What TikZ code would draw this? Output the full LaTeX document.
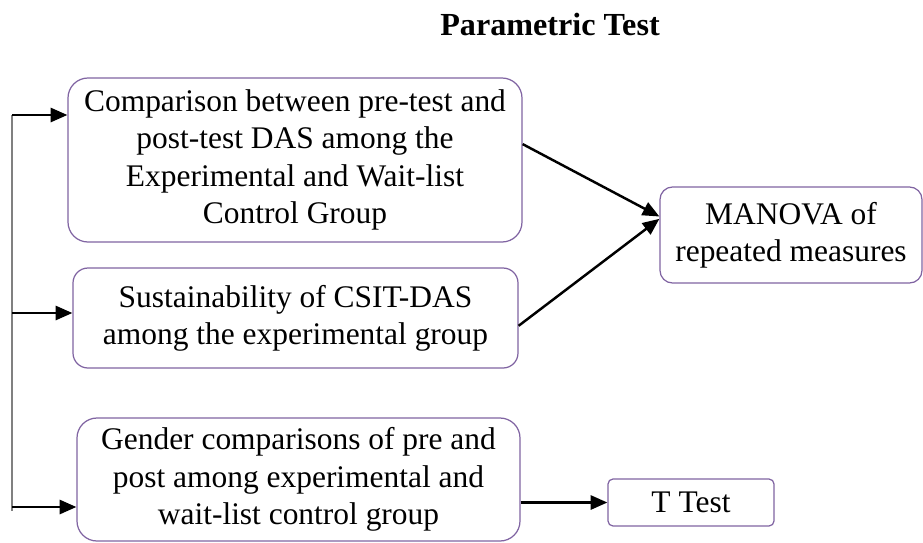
\documentclass[tikz,border=0pt]{standalone}
\usepackage{fontspec}
\setmainfont{Liberation Serif}
\usetikzlibrary{arrows.meta}

\definecolor{boxline}{RGB}{128,100,162}

\tikzset{
  testbox/.style={draw=boxline,line width=0.7pt,align=center,inner sep=0pt,
    font=\fontsize{17.9}{21.2}\selectfont},
  feed/.style={line width=1.4pt,-{Triangle[length=9.5pt,width=8pt]}}
}

\begin{document}
\begin{tikzpicture}[x=0.02cm,y=-0.02cm]
      \useasboundingbox (0,0) rectangle (923,542);

      \node [anchor=base,font=\bfseries\fontsize{18.3}{22}\selectfont] (title) at (550,35) {Parametric Test};

      % the three comparisons on the left
      \node [testbox,rounded corners=0.4cm,minimum width=454*0.02cm,minimum height=164*0.02cm] (cmp) at (295,160)
        {Comparison between pre-test and\\post-test DAS among the\\Experimental and Wait-list\\Control Group};
      \node [testbox,rounded corners=0.3cm,minimum width=445*0.02cm,minimum height=100*0.02cm] (sus) at (295.5,318)
        {Sustainability of CSIT-DAS\\among the experimental group};
      \node [testbox,rounded corners=0.4cm,minimum width=443*0.02cm,minimum height=123*0.02cm] (gen) at (298.5,479.5)
        {Gender comparisons of pre and\\post among experimental and\\wait-list control group};

      % the tests on the right
      \node [testbox,rounded corners=0.25cm,minimum width=262*0.02cm,minimum height=96*0.02cm] (mnv) at (791,235)
        {MANOVA of\\repeated measures};
      \node [testbox,rounded corners=0.1cm,minimum width=166*0.02cm,minimum height=47*0.02cm] (tt) at (691,502.5)
        {T Test};

      % feeding line on the left
      \coordinate (bustop) at (12,115);
      \coordinate (busmid) at (12,313);
      \coordinate (busbot) at (12,507);
      \draw [gray,line width=0.9pt] (bustop) -- ([yshift=-2pt]busbot);

      \draw [feed] (bustop) -- (bustop -| cmp.west);
      \draw [feed] (busmid) -- (busmid -| sus.west);
      \draw [feed] (busbot) -- (busbot -| gen.west);

      \draw [feed] (cmp.4) -- (mnv.172);
      \draw [feed] (sus.-2) -- (mnv.173.5);
      \draw [feed] (gen.east |- tt.west) -- (tt.west);

    \end{tikzpicture}
\end{document}
